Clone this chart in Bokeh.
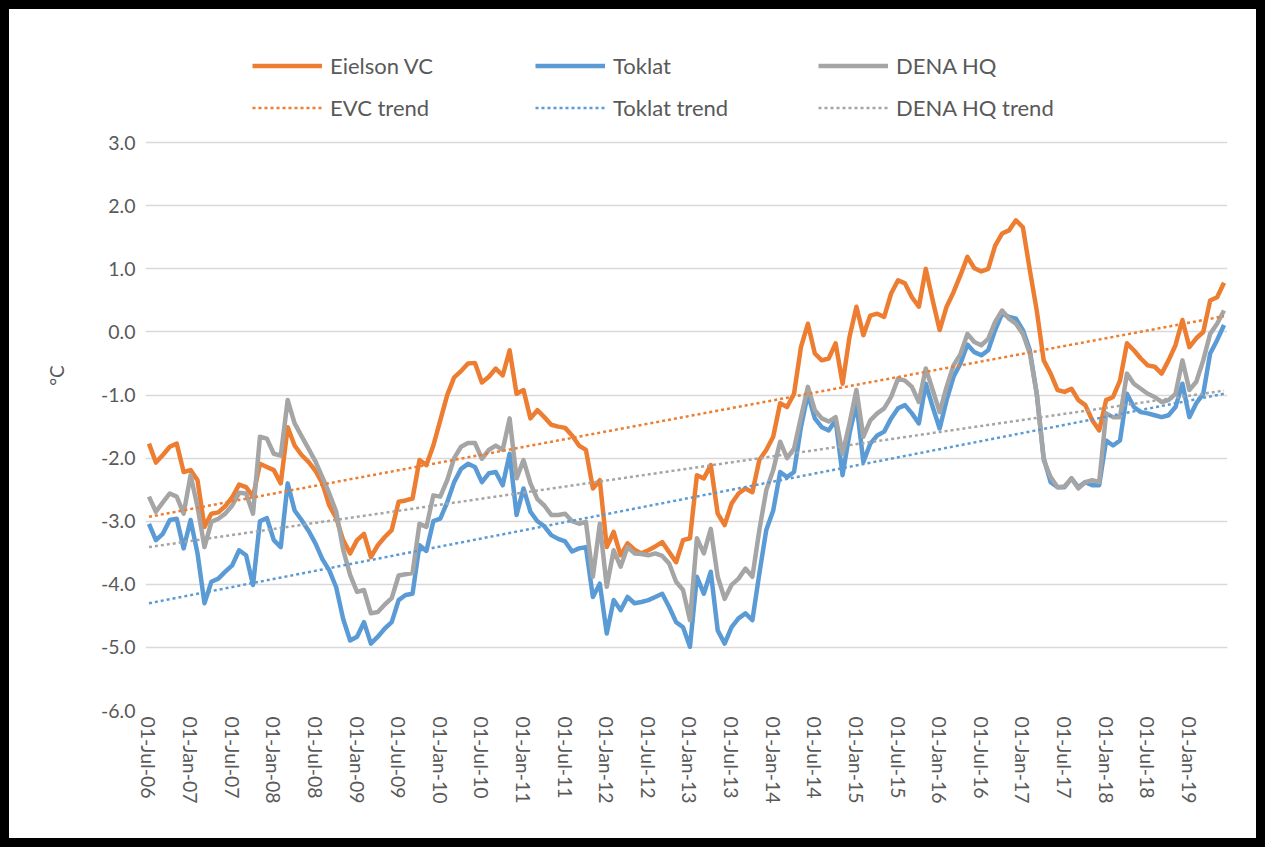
from bokeh.plotting import figure
from bokeh.models import (FixedTicker, NumeralTickFormatter, Legend, LegendItem,
                          Range1d, ColumnDataSource)
from bokeh.embed import file_html
from bokeh.resources import INLINE

# ---------------- data (monthly, 01-Jul-06 .. 01-Jun-19) ----------------
tick_labels = ["01-Jul-06", "01-Jan-07", "01-Jul-07", "01-Jan-08", "01-Jul-08",
               "01-Jan-09", "01-Jul-09", "01-Jan-10", "01-Jul-10", "01-Jan-11",
               "01-Jul-11", "01-Jan-12", "01-Jul-12", "01-Jan-13", "01-Jul-13",
               "01-Jan-14", "01-Jul-14", "01-Jan-15", "01-Jul-15", "01-Jan-16",
               "01-Jul-16", "01-Jan-17", "01-Jul-17", "01-Jan-18", "01-Jul-18",
               "01-Jan-19"]

eielson = [
    -1.77, -2.07, -1.95, -1.82, -1.77, -2.22, -2.19, -2.35, -3.09, -2.88,
    -2.86, -2.76, -2.62, -2.42, -2.46, -2.61, -2.09, -2.14, -2.19, -2.40,
    -1.51, -1.80, -1.95, -2.06, -2.20, -2.40, -2.75, -2.95, -3.30, -3.51,
    -3.30, -3.20, -3.57, -3.38, -3.25, -3.14, -2.69, -2.67, -2.64, -2.03,
    -2.11, -1.80, -1.40, -1.00, -0.72, -0.62, -0.50, -0.49, -0.80, -0.71,
    -0.58, -0.69, -0.29, -0.98, -0.92, -1.37, -1.24, -1.35, -1.47, -1.50,
    -1.52, -1.64, -1.80, -1.87, -2.48, -2.35, -3.41, -3.17, -3.54, -3.35,
    -3.45, -3.51, -3.46, -3.40, -3.33, -3.49, -3.65, -3.30, -3.27, -2.27,
    -2.32, -2.11, -2.88, -3.06, -2.72, -2.56, -2.48, -2.54, -2.03, -1.87,
    -1.66, -1.13, -1.19, -0.98, -0.24, 0.13, -0.34, -0.45, -0.42, -0.18,
    -0.82, -0.08, 0.40, -0.05, 0.26, 0.29, 0.24, 0.61, 0.82, 0.77,
    0.55, 0.40, 1.00, 0.50, 0.03, 0.40, 0.63, 0.90, 1.19, 1.01,
    0.96, 1.00, 1.37, 1.56, 1.61, 1.77, 1.66, 0.98, 0.34, -0.45,
    -0.66, -0.92, -0.95, -0.90, -1.08, -1.16, -1.40, -1.56, -1.08, -1.03,
    -0.77, -0.18, -0.29, -0.42, -0.53, -0.55, -0.66, -0.45, -0.21, 0.19,
    -0.24, -0.10, 0.00, 0.50, 0.55, 0.78]

toklat = [
    -3.04, -3.30, -3.20, -2.98, -2.96, -3.43, -2.98, -3.51, -4.30, -3.96,
    -3.91, -3.80, -3.70, -3.46, -3.54, -4.01, -3.00, -2.95, -3.30, -3.41,
    -2.40, -2.83, -2.98, -3.15, -3.35, -3.60, -3.78, -4.05, -4.55, -4.89,
    -4.83, -4.60, -4.94, -4.83, -4.70, -4.60, -4.25, -4.17, -4.15, -3.38,
    -3.47, -3.00, -2.96, -2.70, -2.38, -2.17, -2.09, -2.14, -2.38, -2.24,
    -2.22, -2.43, -1.93, -2.90, -2.48, -2.85, -3.00, -3.08, -3.22, -3.28,
    -3.32, -3.48, -3.43, -3.41, -4.20, -3.99, -4.78, -4.25, -4.41, -4.20,
    -4.30, -4.28, -4.25, -4.20, -4.15, -4.36, -4.60, -4.68, -4.99, -3.88,
    -4.15, -3.80, -4.73, -4.94, -4.68, -4.54, -4.46, -4.57, -3.83, -3.14,
    -2.83, -2.22, -2.30, -2.22, -1.51, -0.98, -1.37, -1.51, -1.56, -1.40,
    -2.27, -1.61, -1.13, -2.06, -1.77, -1.64, -1.58, -1.37, -1.21, -1.16,
    -1.29, -1.45, -0.82, -1.19, -1.53, -1.08, -0.71, -0.50, -0.20, -0.32,
    -0.37, -0.29, 0.03, 0.29, 0.24, 0.21, 0.03, -0.29, -0.98, -2.00,
    -2.38, -2.46, -2.46, -2.32, -2.46, -2.38, -2.43, -2.43, -1.72, -1.80,
    -1.72, -0.98, -1.19, -1.27, -1.29, -1.32, -1.35, -1.32, -1.19, -0.82,
    -1.35, -1.13, -0.98, -0.34, -0.13, 0.11]

dena_hq = [
    -2.61, -2.85, -2.70, -2.56, -2.61, -2.88, -2.27, -2.77, -3.41, -3.01,
    -2.96, -2.88, -2.75, -2.55, -2.56, -2.88, -1.66, -1.69, -1.93, -1.96,
    -1.08, -1.45, -1.65, -1.85, -2.05, -2.30, -2.56, -2.85, -3.45, -3.85,
    -4.12, -4.09, -4.46, -4.44, -4.32, -4.22, -3.86, -3.84, -3.82, -3.04,
    -3.09, -2.59, -2.61, -2.35, -2.00, -1.82, -1.76, -1.76, -2.01, -1.87,
    -1.80, -1.87, -1.37, -2.32, -2.03, -2.40, -2.65, -2.75, -2.90, -2.90,
    -2.88, -3.00, -3.04, -3.01, -3.88, -3.04, -4.04, -3.46, -3.72, -3.41,
    -3.51, -3.52, -3.54, -3.51, -3.55, -3.67, -3.96, -4.09, -4.57, -3.27,
    -3.51, -3.12, -3.88, -4.23, -4.01, -3.91, -3.75, -3.88, -3.14, -2.51,
    -2.19, -1.74, -2.00, -1.85, -1.35, -0.87, -1.24, -1.37, -1.42, -1.35,
    -1.93, -1.45, -0.92, -1.66, -1.40, -1.29, -1.21, -1.03, -0.74, -0.77,
    -0.87, -1.11, -0.58, -0.92, -1.27, -0.87, -0.53, -0.35, -0.03, -0.16,
    -0.21, -0.11, 0.16, 0.34, 0.21, 0.13, -0.03, -0.34, -0.98, -2.03,
    -2.30, -2.46, -2.45, -2.32, -2.48, -2.38, -2.35, -2.38, -1.29, -1.35,
    -1.35, -0.66, -0.82, -0.90, -0.98, -1.03, -1.11, -1.08, -0.98, -0.45,
    -0.92, -0.79, -0.45, -0.03, 0.13, 0.34]

# linear trend lines: value at first and last month
evc_trend = [-2.93, 0.25]
toklat_trend = [-4.30, -0.98]
dena_trend = [-3.41, -0.93]

# ---------------- styling ----------------
FONT = "Lato"
TEXT = "#595959"
ORANGE = "#ED7D31"
BLUE = "#5B9BD5"
GREY = "#A5A5A5"

n = len(eielson)
months = list(range(n))
trend_x = [months[0], months[-1]]

src = ColumnDataSource(dict(m=months, evc=eielson, tok=toklat, dena=dena_hq))

# frame extends above the 3.0 gridline to hold the legend (headroom only, no ticks there)
Y_TOP = 4.62
p = figure(width=1265, height=847, output_backend="svg", toolbar_location=None,
           x_range=Range1d(-0.5, n - 0.5), y_range=Range1d(-6, Y_TOP),
           min_border_left=145, min_border_right=38,
           min_border_top=40, min_border_bottom=137)
p.styles = {"background-color": "white", "box-shadow": "inset 0 0 0 9px black"}
p.outline_line_color = None
p.background_fill_color = "white"
p.border_fill_color = None

r_evc = p.line("m", "evc", source=src, color=ORANGE, line_width=4.5, line_join="round")
r_tok = p.line("m", "tok", source=src, color=BLUE, line_width=4.5, line_join="round")
r_dena = p.line("m", "dena", source=src, color=GREY, line_width=4.5, line_join="round")

r_evc_t = p.line(trend_x, evc_trend, color=ORANGE, line_width=2.5, line_dash="3 3")
r_tok_t = p.line(trend_x, toklat_trend, color=BLUE, line_width=2.5, line_dash="3 3")
r_dena_t = p.line(trend_x, dena_trend, color=GREY, line_width=2.5, line_dash="3 3")

# axes
tick_pos = [6 * k for k in range(len(tick_labels))]
p.xaxis.ticker = FixedTicker(ticks=tick_pos)
p.xaxis.major_label_overrides = {t: lab for t, lab in zip(tick_pos, tick_labels)}
p.xaxis.major_label_orientation = "vertical"
p.yaxis.ticker = FixedTicker(ticks=list(range(-6, 4)))
p.yaxis.formatter = NumeralTickFormatter(format="0.0")
p.yaxis.axis_label = "°C"

for ax in (p.xaxis, p.yaxis):
    ax.axis_line_color = None
    ax.major_tick_line_color = None
    ax.minor_tick_line_color = None
    ax.major_tick_out = 0
    ax.major_tick_in = 0
    ax.major_label_text_font = FONT
    ax.major_label_text_font_size = "19.5px"
    ax.major_label_text_color = TEXT
    ax.axis_label_text_font = FONT
    ax.axis_label_text_font_size = "19px"
    ax.axis_label_text_font_style = "normal"
    ax.axis_label_text_color = TEXT
p.xaxis.major_label_standoff = 6
p.yaxis.major_label_standoff = 10
p.yaxis.axis_label_standoff = 30

p.xgrid.visible = False
p.ygrid.grid_line_color = "#D9D9D9"
p.ygrid.grid_line_width = 1.5

legend = Legend(items=[
    LegendItem(label="Eielson VC", renderers=[r_evc]),
    LegendItem(label="Toklat", renderers=[r_tok]),
    LegendItem(label="DENA HQ", renderers=[r_dena]),
    LegendItem(label="EVC trend", renderers=[r_evc_t]),
    LegendItem(label="Toklat trend", renderers=[r_tok_t]),
    LegendItem(label="DENA HQ trend", renderers=[r_dena_t]),
], orientation="horizontal", ncols=3, location=(107, 589),
    glyph_width=70, glyph_height=21, label_height=21, label_width=190,
    label_standoff=8, spacing=15, padding=0, margin=0,
    border_line_alpha=0, background_fill_alpha=0,
    label_text_font=FONT, label_text_font_size="22px", label_text_color=TEXT)
p.add_layout(legend, "center")

open("out.html", "w").write(file_html(p, INLINE))
